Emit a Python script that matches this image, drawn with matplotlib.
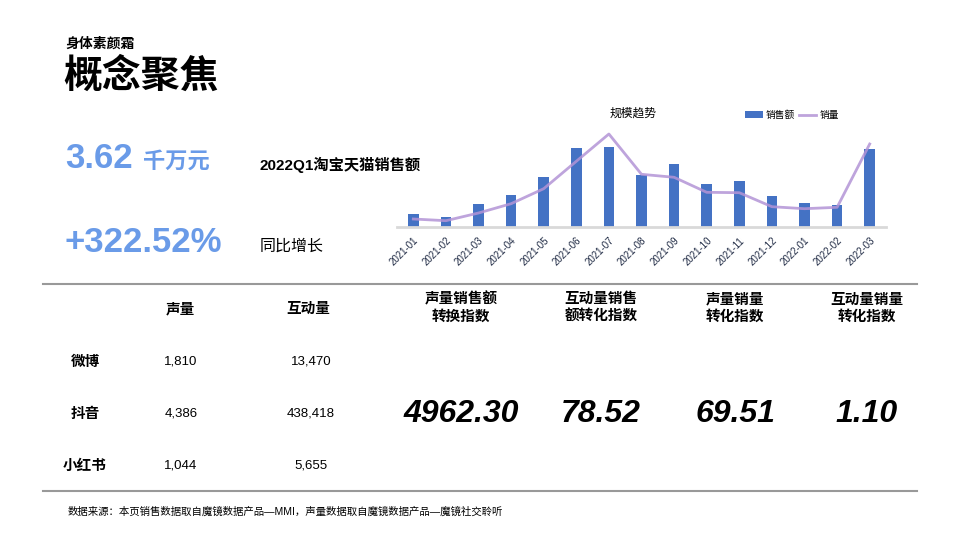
import matplotlib
matplotlib.use('Agg')
import matplotlib.pyplot as plt
import numpy as np

plt.rcParams['font.family'] = ['Liberation Sans', 'Noto Sans CJK SC', 'DejaVu Sans']

months = ['2021-01', '2021-02', '2021-03', '2021-04', '2021-05', '2021-06', '2021-07', '2021-08',
          '2021-09', '2021-10', '2021-11', '2021-12', '2022-01', '2022-02', '2022-03']
# sales (万元) and sales volume (relative units)
sales = [386, 299, 676, 937, 1459, 2300, 2329, 1517, 1836, 1256, 1343, 908, 705, 647, 2271]
volume = [8.0, 6.3, 14.0, 23.3, 38.3, 65.7, 93.0, 52.7, 49.7, 34.7, 34.3, 20.3, 18.3, 19.7, 83.0]

platforms = ['微博', '抖音', '小红书']
voice = ['1,810', '4,386', '1,044']
interact = ['13,470', '438,418', '5,655']
idx_headers = ['声量销售额\n转换指数', '互动量销售\n额转化指数', '声量销量\n转化指数', '互动量销量\n转化指数']
idx_values = ['4962.30', '78.52', '69.51', '1.10']

W, H = 960, 540
fig = plt.figure(figsize=(9.6, 5.4), dpi=100)

def fx(px):
    return px / W

def fy(py):
    return 1 - py / H

blue = '#6A9BE8'

# title block
fig.text(fx(65), fy(44), '身体素颜霜', fontsize=10, fontweight='bold', va='center')
fig.text(fx(63), fy(77), '概念聚焦', fontsize=28, fontweight='bold', va='center')

fig.text(fx(65), fy(168), '3.62', fontsize=25, fontweight='bold', color=blue, va='baseline')
fig.text(fx(143), fy(168), '千万元', fontsize=16, fontweight='bold', color=blue, va='baseline')
fig.text(fx(65), fy(252), '+322.52%', fontsize=25, fontweight='bold', color=blue, va='baseline')
fig.text(fx(260), fy(165), '2022Q1淘宝天猫销售额', fontsize=11, fontweight='bold', va='center')
fig.text(fx(260), fy(246), '同比增长', fontsize=11.5, fontweight='medium', va='center')

# chart
ax = fig.add_axes([fx(397), fy(227), fx(886) - fx(397), 99 / H])
x = np.arange(len(months))
bars = ax.bar(x, sales, width=0.33, color='#4472C4', label='销售额', zorder=2)
ax.set_xlim(-0.5, len(months) - 0.5)
ax.set_ylim(0, 2870)
ax2 = ax.twinx()
ln, = ax2.plot(x, volume, color='#B394D6', lw=2, alpha=0.85, label='销量', zorder=3)
ax2.set_ylim(0, 99)
for a in (ax, ax2):
    for s in a.spines.values():
        s.set_visible(False)
    a.set_yticks([])
ax.spines['bottom'].set_visible(True)
ax.spines['bottom'].set_color('#D9D9D9')
ax.spines['bottom'].set_linewidth(2)
ax.set_xticks(x)
ax.set_xticklabels(months, rotation=45, ha='right', rotation_mode='anchor', fontsize=7, color='#1F2A44')
ax.tick_params(axis='x', length=0, pad=6)
fig.text(fx(633), fy(114), '规模趋势', fontsize=8.5, ha='center', va='center')
fig.legend([bars, ln], ['销售额', '销量'], loc='center', bbox_to_anchor=(fx(792), fy(115)), ncol=2,
           frameon=False, fontsize=7, handlelength=1.8, handletextpad=0.3, columnspacing=0.4)

# separators
for yy in (284, 491):
    fig.add_artist(plt.Line2D([fx(43), fx(917)], [fy(yy), fy(yy)], color='#999999', lw=1.5))

# table
fig.text(fx(180), fy(309), '声量', fontsize=10.5, fontweight='bold', ha='center', va='center')
fig.text(fx(308), fy(309), '互动量', fontsize=10.5, fontweight='bold', ha='center', va='center')
row_y = [362, 414, 466]
for name, v, it, yy in zip(platforms, voice, interact, row_y):
    fig.text(fx(85), fy(yy), name, fontsize=10.5, fontweight='bold', ha='center', va='center')
    fig.text(fx(181), fy(yy), v, fontsize=9.5, ha='center', va='center')
    fig.text(fx(311), fy(yy), it, fontsize=9.5, ha='center', va='center')

col_x = [461, 601, 735, 867]
for cx, hd, val in zip(col_x, idx_headers, idx_values):
    fig.text(fx(cx), fy(308), hd, fontsize=10.5, fontweight='bold', ha='center', va='center', linespacing=1.3)
    fig.text(fx(cx), fy(414), val, fontsize=23, fontweight='bold', style='italic', ha='center', va='center')

fig.text(fx(68), fy(512), '数据来源：本页销售数据取自魔镜数据产品—MMI，声量数据取自魔镜数据产品—魔镜社交聆听',
         fontsize=7.5, va='center')

fig.savefig('out.png', dpi=100)
